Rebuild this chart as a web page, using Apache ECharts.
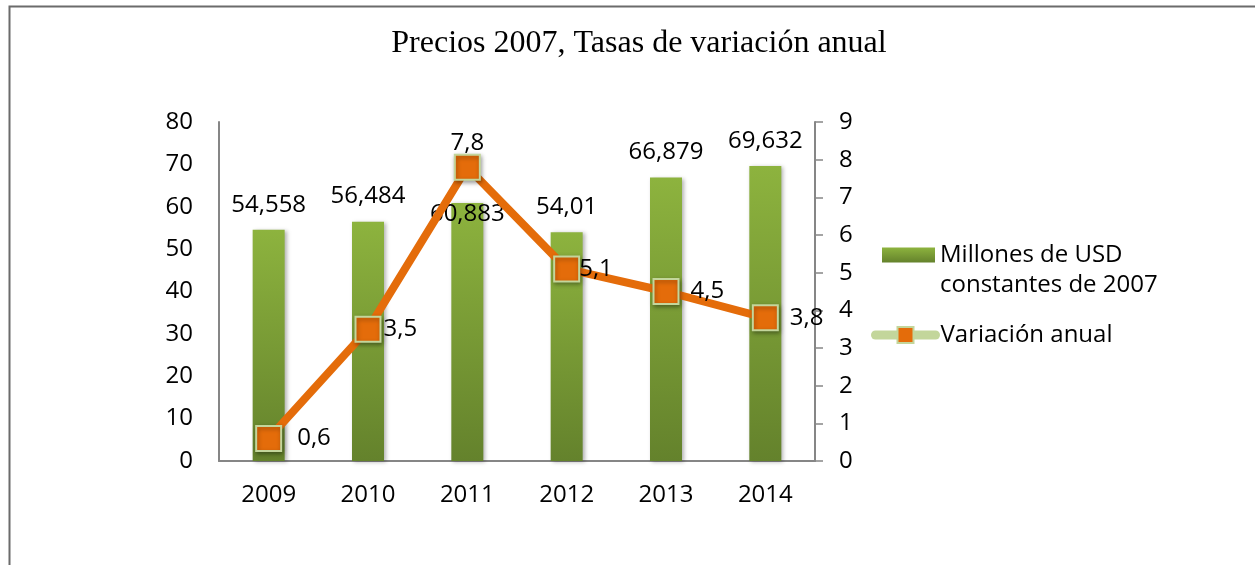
<!DOCTYPE html>
<html>
<head>
<meta charset="utf-8">
<script src="https://cdn.jsdelivr.net/npm/echarts@6/dist/echarts.min.js"></script>
<style>
  html, body { margin: 0; padding: 0; background: #fff; }
  #chart { width: 1255px; height: 565px; }
</style>
</head>
<body>
<div id="chart"></div>
<script>
// data
const years = ["2009", "2010", "2011", "2012", "2013", "2014"];
const millones = [54.558, 56.484, 60.883, 54.01, 66.879, 69.632];
const variacion = [0.6, 3.5, 7.8, 5.1, 4.5, 3.8];

const barName = "Millones de USD\nconstantes de 2007";
const lineName = "Variación anual";

const font = "'Open Sans', 'Noto Sans', sans-serif";
const fs = 24;
const fmt = v => String(v).replace(".", ",");

// per-point label placement (the Excel labels were nudged by hand)
const lineLabels = [
  { position: "right", distance: 15 },
  { position: "right", distance: 2 },
  { position: "top", distance: -1 },
  { position: "right", distance: -1 },
  { position: "right", distance: 11 },
  { position: "right", distance: 11 }
];

const chart = echarts.init(document.getElementById("chart"));

const barData = millones.map((v, i) => {
  if (i === 2) return { value: v, label: { offset: [0, 36] } };
  return v;
});
const lineData = variacion.map((v, i) => ({ value: v, label: lineLabels[i] }));

chart.setOption({
  animation: false,
  backgroundColor: "#fff",
  graphic: [{
    type: "rect",
    left: 7, top: 4,
    shape: { width: 1400, height: 700 },
    style: { fill: "none", stroke: "#6b6b6b", lineWidth: 2 }
  }],
  title: {
    text: "Precios 2007, Tasas de variación anual",
    left: 634, textAlign: "center", top: 23,
    textStyle: { fontFamily: "'Liberation Serif', 'Times New Roman', serif", fontSize: 32, fontWeight: "normal", color: "#000" }
  },
  legend: [{
    data: [barName],
    left: 877, top: 205,
    icon: "rect",
    itemWidth: 53, itemHeight: 15, itemGap: 6,
    // blank first line keeps the swatch level with the first text line
    formatter: name => "\n" + name,
    textStyle: { fontFamily: font, fontSize: fs, color: "#000", lineHeight: 30 }
  }, {
    data: [{
      name: lineName,
      lineStyle: { color: "#c3d69b", width: 9, cap: "round" },
      itemStyle: { color: "#e46c0a", borderColor: "#c3d69b", borderWidth: 2 }
    }],
    left: 866, top: 318,
    itemWidth: 60, itemHeight: 20, itemGap: 4,
    textStyle: { fontFamily: font, fontSize: fs, color: "#000" }
  }],
  grid: { left: 219, right: 440, top: 122, bottom: 104 },
  xAxis: {
    type: "category",
    data: years,
    axisLine: { lineStyle: { color: "#868686", width: 2 } },
    axisTick: { show: false },
    axisLabel: { color: "#000", fontFamily: font, fontSize: fs, margin: 22 }
  },
  yAxis: [{
    type: "value", min: 0, max: 80, interval: 10,
    splitLine: { show: false },
    axisLine: { show: true, lineStyle: { color: "#868686", width: 2 } },
    axisTick: { show: false },
    axisLabel: { color: "#000", fontFamily: font, fontSize: fs, margin: 26 }
  }, {
    type: "value", min: 0, max: 9, interval: 1,
    position: "right",
    splitLine: { show: false },
    axisLine: { show: true, lineStyle: { color: "#868686", width: 2 } },
    axisTick: { show: true, length: 8, lineStyle: { color: "#868686", width: 1.5 } },
    axisLabel: { color: "#000", fontFamily: font, fontSize: fs, margin: 24 }
  }],
  series: [{
    name: barName,
    type: "bar",
    data: barData,
    barWidth: 32,
    itemStyle: {
      color: new echarts.graphic.LinearGradient(0, 0, 0, 1, [
        { offset: 0, color: "#8db33e" },
        { offset: 1, color: "#64822c" }
      ]),
      shadowColor: "rgba(0,0,0,0.3)", shadowBlur: 4, shadowOffsetX: 2, shadowOffsetY: 1
    },
    label: {
      show: true, position: "top", distance: 13,
      color: "#000", fontFamily: font, fontSize: fs,
      formatter: p => fmt(p.value)
    }
  }, {
    name: lineName,
    type: "line",
    yAxisIndex: 1,
    data: lineData,
    symbol: "rect",
    symbolSize: 25,
    lineStyle: { color: "#e46c0a", width: 8 },
    itemStyle: {
      color: "#e46c0a", borderColor: "#c3d69b", borderWidth: 2,
      shadowColor: "rgba(0,0,0,0.35)", shadowBlur: 4, shadowOffsetX: 1, shadowOffsetY: 2
    },
    label: {
      show: true, color: "#000", fontFamily: font, fontSize: fs,
      formatter: p => fmt(p.value)
    },
    z: 5
  }]
});
</script>
</body>
</html>
